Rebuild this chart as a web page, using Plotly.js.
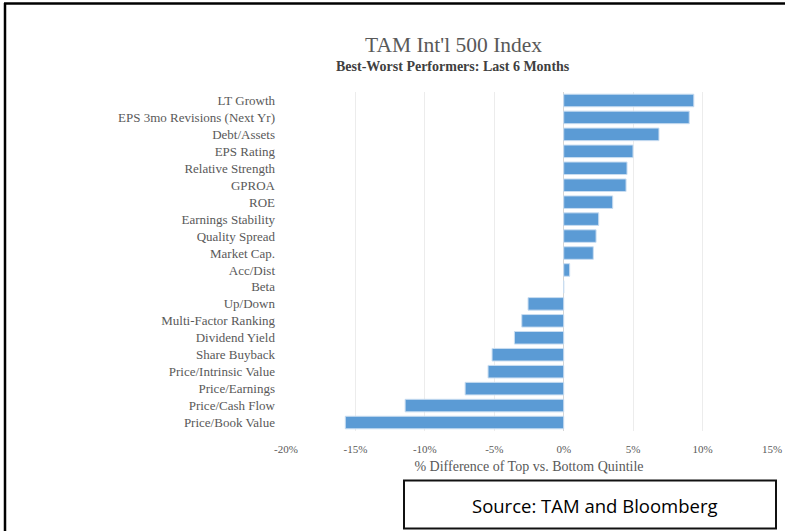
<!DOCTYPE html>
<html>
<head>
<meta charset="utf-8">
<script src="https://cdn.plot.ly/plotly-3.0.1.min.js"></script>
<style>
html,body{margin:0;padding:0;background:#fff;overflow:hidden;}
#chart{width:785px;height:531px;}
</style>
</head>
<body>
<div id="chart"></div>
<script>
const categories = [
  "LT Growth","EPS 3mo Revisions (Next Yr)","Debt/Assets","EPS Rating","Relative Strength",
  "GPROA","ROE","Earnings Stability","Quality Spread","Market Cap.",
  "Acc/Dist","Beta","Up/Down","Multi-Factor Ranking","Dividend Yield",
  "Share Buyback","Price/Intrinsic Value","Price/Earnings","Price/Cash Flow","Price/Book Value"
];
const values = [
  9.37, 9.04, 6.86, 4.99, 4.56,
  4.49, 3.53, 2.52, 2.33, 2.13,
  0.43, 0.0, -2.57, -3.02, -3.55,
  -5.16, -5.45, -7.10, -11.42, -15.73
];
const tickValues = [-20,-15,-10,-5,0,5,10,15];
const tickLabels = ["-20%","-15%","-10%","-5%","0%","5%","10%","15%"];
const titleText = "TAM Int'l 500 Index";
const subtitleText = "Best-Worst Performers: Last 6 Months";
const xTitleText = "% Difference of Top vs. Bottom Quintile";
const sourceText = "Source: TAM and Bloomberg";

const W = 785, H = 531;
const M = {l: 286, r: 13, t: 92, b: 100};
const PW = W - M.l - M.r, PH = H - M.t - M.b;
const px = v => (v - M.l) / PW;
const py = v => (H - M.b - v) / PH;

const serif = "'Liberation Serif', 'DejaVu Serif', serif";

const trace = {
  type: 'bar',
  orientation: 'h',
  y: categories,
  x: values,
  marker: {color: '#5B9BD5', line: {color: '#c9ddf1', width: 1}},
  hoverinfo: 'skip'
};

const layout = {
  width: W, height: H,
  margin: M,
  paper_bgcolor: '#fff', plot_bgcolor: '#fff',
  showlegend: false,
  bargap: 0.26,
  font: {family: serif, color: '#595959'},
  xaxis: {
    range: [-20, 15],
    tickmode: 'array', tickvals: tickValues, ticktext: tickLabels,
    showgrid: true, gridcolor: '#ececec', gridwidth: 1,
    zeroline: true, zerolinecolor: '#d6d6d6', zerolinewidth: 1,
    showline: false, ticks: '',
    tickfont: {family: serif, size: 11, color: '#595959'},
    ticklabelstandoff: 10,
    title: {text: xTitleText, font: {family: serif, size: 14, color: '#595959'}, standoff: 7},
    fixedrange: true
  },
  yaxis: {
    autorange: 'reversed',
    type: 'category',
    showgrid: false, zeroline: false, showline: false, ticks: '',
    tickfont: {family: serif, size: 13, color: '#595959'},
    ticklabelstandoff: 10,
    fixedrange: true
  },
  shapes: [
    {type: 'line', xref: 'paper', yref: 'paper', x0: px(4), x1: px(800), y0: py(3.5), y1: py(3.5), line: {color: '#000', width: 2.5}},
    {type: 'line', xref: 'paper', yref: 'paper', x0: px(5), x1: px(5), y0: py(3), y1: py(540), line: {color: '#000', width: 2.5}},
    {type: 'rect', xref: 'paper', yref: 'paper', x0: px(404), x1: px(776), y0: py(480.5), y1: py(528.5), line: {color: '#111', width: 2}, fillcolor: 'rgba(0,0,0,0)'}
  ],
  annotations: [
    {xref: 'paper', yref: 'paper', x: px(453), y: py(45), text: titleText, showarrow: false,
     xanchor: 'center', yanchor: 'middle', font: {family: serif, size: 21.5, color: '#595959'}},
    {xref: 'paper', yref: 'paper', x: px(453), y: py(66), text: '<b>' + subtitleText + '</b>', showarrow: false,
     xanchor: 'center', yanchor: 'middle', font: {family: serif, size: 14, color: '#404040'}},
    {xref: 'paper', yref: 'paper', x: px(595), y: py(505), text: sourceText, showarrow: false,
     xanchor: 'center', yanchor: 'middle', font: {family: "'Open Sans', 'Noto Sans', sans-serif", size: 18.5, color: '#000'}}
  ]
};

Plotly.newPlot('chart', [trace], layout, {displayModeBar: false, staticPlot: true});
</script>
</body>
</html>
